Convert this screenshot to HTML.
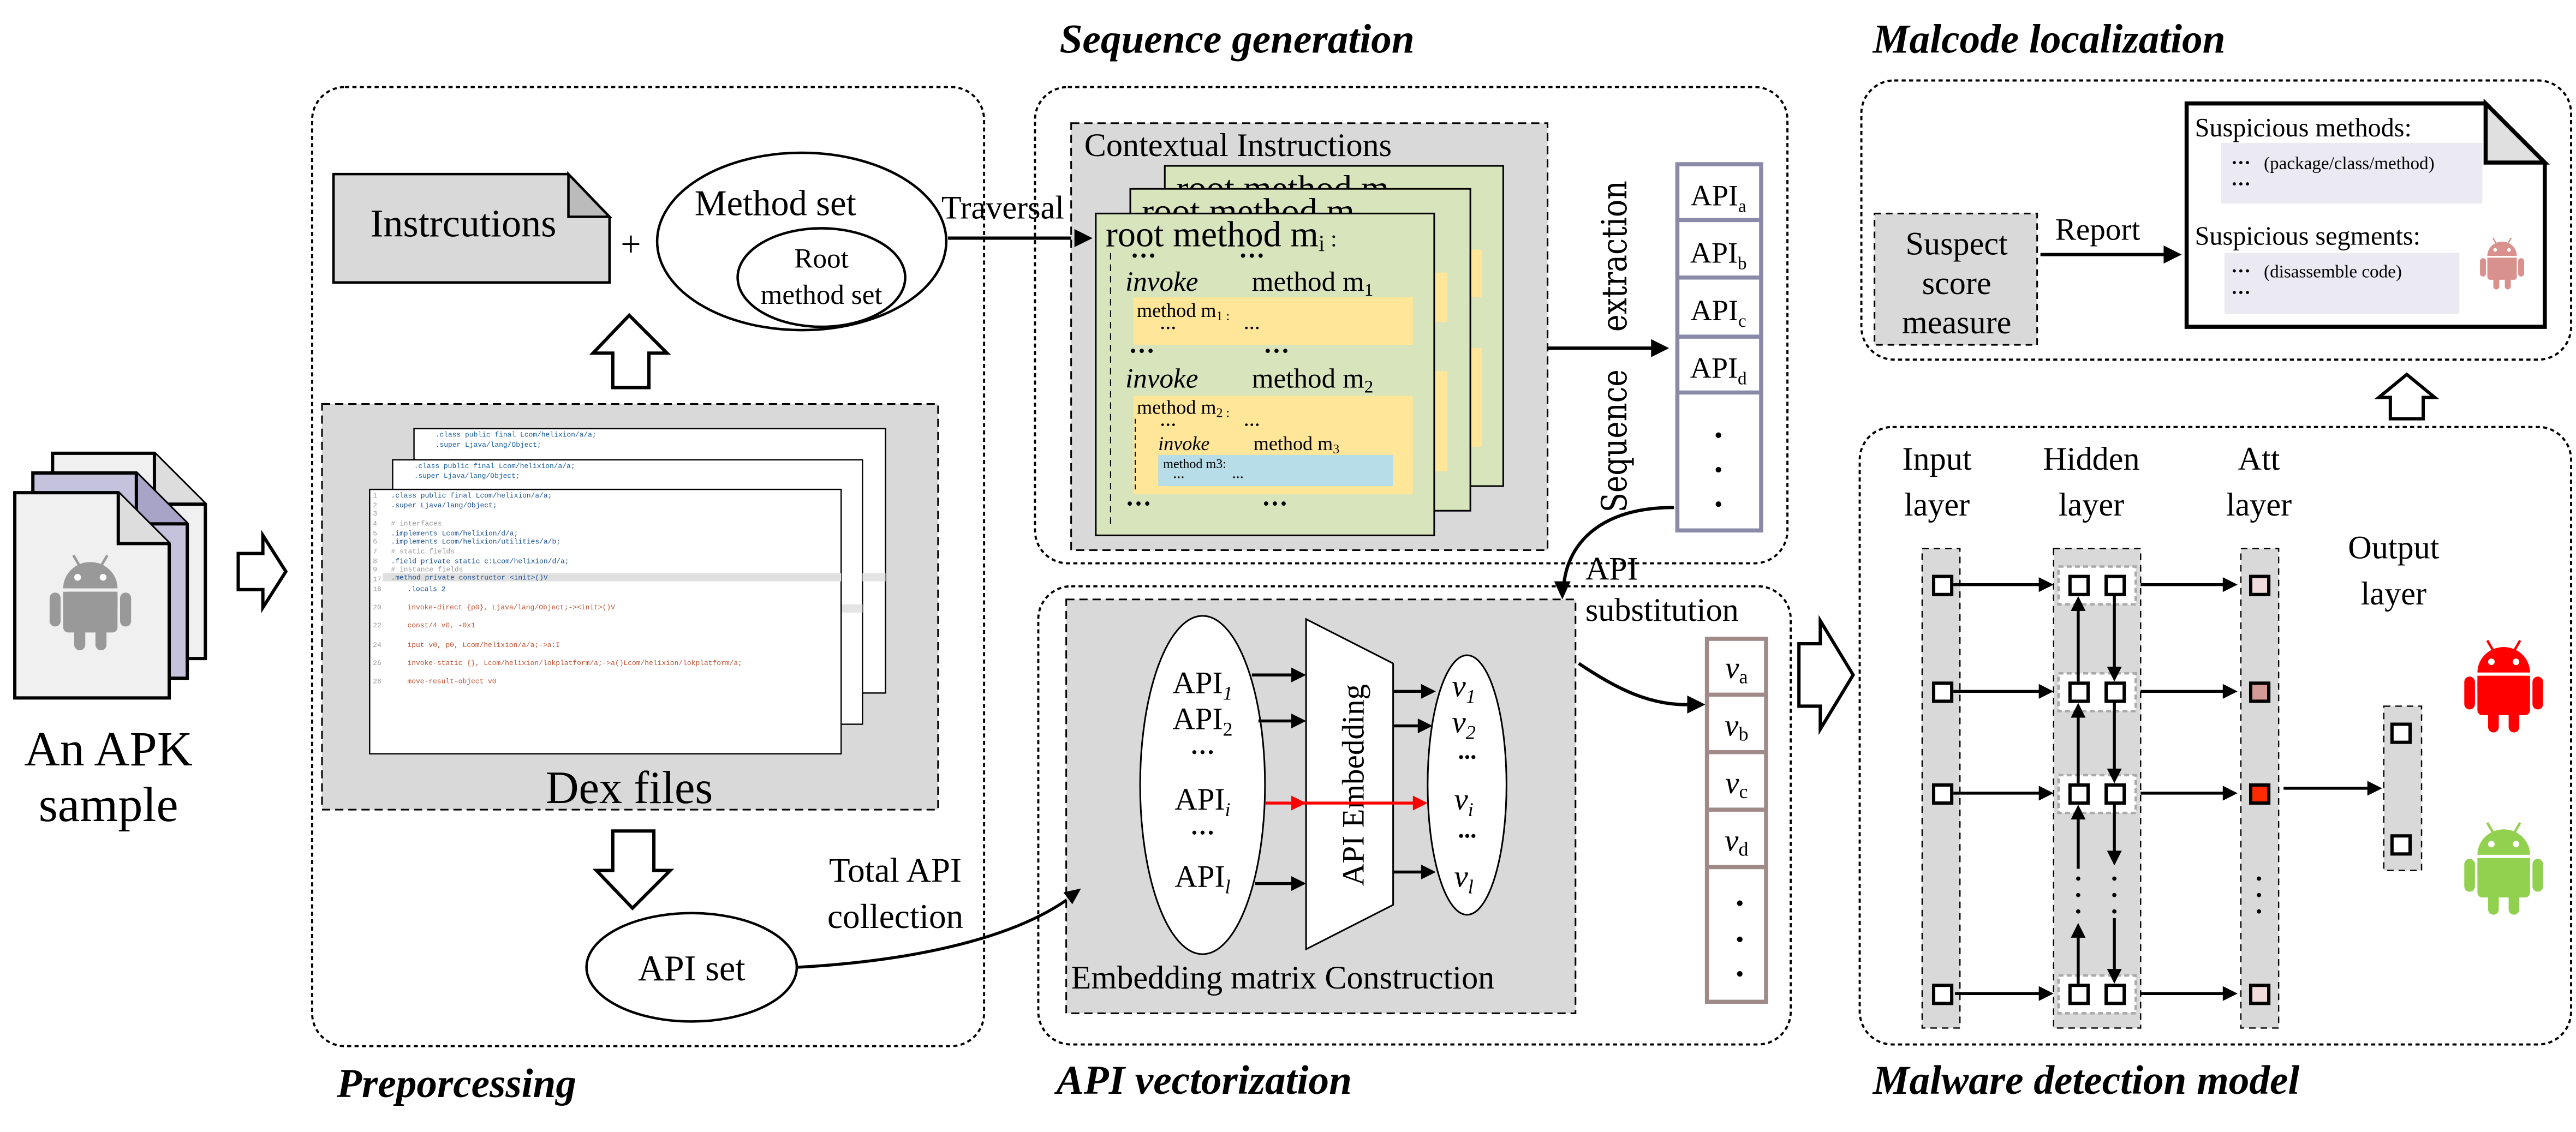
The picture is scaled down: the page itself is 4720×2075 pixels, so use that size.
<!DOCTYPE html>
<html><head><meta charset="utf-8"><style>
html,body{margin:0;padding:0;background:#fff;}
svg{display:block;}
text{font-family:"Liberation Serif",serif;}
text.m,.m text{font-family:"Liberation Mono",monospace;font-size:4.3px;}
</style></head><body>
<svg width="4720" height="2075" viewBox="0 0 1568 689.3" preserveAspectRatio="none" xmlns="http://www.w3.org/2000/svg">
<defs>
<symbol id="droid" viewBox="0 0 100 120">
<g fill="currentColor">
<line x1="30" y1="6" x2="37" y2="18" stroke="currentColor" stroke-width="3"/>
<line x1="70" y1="6" x2="63" y2="18" stroke="currentColor" stroke-width="3"/>
<path d="M18 45 A32 31 0 0 1 82 45 Z"/>
<rect x="18" y="49" width="64" height="48" rx="6"/>
<rect x="18" y="49" width="64" height="20"/>
<rect x="2" y="50" width="13" height="40" rx="6.5"/>
<rect x="85" y="50" width="13" height="40" rx="6.5"/>
<rect x="31" y="85" width="13" height="33" rx="6.5"/>
<rect x="56" y="85" width="13" height="33" rx="6.5"/>
</g>
<circle cx="35" cy="32" r="4" fill="#fff"/><circle cx="65" cy="32" r="4" fill="#fff"/>
</symbol>
</defs>

<!-- APK stack -->
<g stroke="#000" stroke-width="2">
<path d="M32,276 H94 L125,307 V401 H32 Z" fill="#f0f0f0"/>
<path d="M94,276 V307 H125" fill="#ddd"/>
<path d="M20,288 H83 L114,319 V413 H20 Z" fill="#c4c2dc"/>
<path d="M83,288 V319 H114" fill="#a8a4c8"/>
<path d="M9,300 H72 L103,331 V425 H9 Z" fill="#f0f0f0"/>
<path d="M72,300 V331 H103" fill="#ddd"/>
</g>
<use href="#droid" x="29" y="335" width="52" height="62" color="#999"/>
<text x="66" y="466" font-size="30" text-anchor="middle">An APK</text>
<text x="66" y="500" font-size="30" text-anchor="middle">sample</text>
<path d="M145,337 H160 V326 L174,348 L160,370 V359 H145 Z" fill="#fff" stroke="#000" stroke-width="2"/>

<!-- Preprocessing -->
<rect x="190" y="53" width="409" height="584" rx="20" fill="none" stroke="#000" stroke-width="1.3" stroke-dasharray="2.5,2"/>
<path d="M203,106 H346 L371,132 V172 H203 Z" fill="#d9d9d9" stroke="#000" stroke-width="1.5"/>
<path d="M346,106 V132 H371 Z" fill="#bbb" stroke="#000" stroke-width="1.5"/>
<text x="282" y="144" font-size="24" text-anchor="middle">Instrcutions</text>
<text x="384" y="156" font-size="22" text-anchor="middle">+</text>
<ellipse cx="488" cy="147" rx="88" ry="54" fill="#fff" stroke="#000" stroke-width="1.5"/>
<ellipse cx="500" cy="169" rx="51" ry="30" fill="#fff" stroke="#000" stroke-width="1.5"/>
<text x="472" y="131" font-size="22" text-anchor="middle">Method set</text>
<text x="500" y="163" font-size="17" text-anchor="middle">Root</text>
<text x="500" y="185" font-size="17" text-anchor="middle">method set</text>
<path d="M373,236 V215 H361 L383,192 L406,215 H395 V236 Z" fill="#fff" stroke="#000" stroke-width="2"/>
<rect x="196" y="246" width="375" height="247" fill="#d9d9d9" stroke="#000" stroke-width="1" stroke-dasharray="5,3"/>
<rect x="252" y="261" width="287" height="161" fill="#fff" stroke="#000" stroke-width="0.8"/>
<rect x="239" y="280" width="286" height="161" fill="#fff" stroke="#000" stroke-width="0.8"/>
<rect x="525" y="349" width="14" height="5" fill="#e4e4e4"/>
<rect x="512" y="368" width="13" height="5" fill="#e4e4e4"/>
<text class="m" x="265" y="266" fill="#1a5fa0">.class public final Lcom/helixion/a/a;</text>
<text class="m" x="265" y="272" fill="#1a5fa0">.super Ljava/lang/Object;</text>
<text class="m" x="252" y="285" fill="#1a5fa0">.class public final Lcom/helixion/a/a;</text>
<text class="m" x="252" y="291" fill="#1a5fa0">.super Ljava/lang/Object;</text>
<rect x="225" y="298" width="287" height="161" fill="#fff" stroke="#000" stroke-width="0.8"/>
<rect x="233" y="349" width="279" height="5" fill="#e0e0e0"/>
<g class="m" fill="#999">
<text x="227" y="303">1</text><text x="227" y="309">2</text><text x="227" y="314">3</text><text x="227" y="320">4</text><text x="227" y="326">5</text><text x="227" y="331">6</text><text x="227" y="337">7</text><text x="227" y="343">8</text><text x="227" y="348">9</text><text x="227" y="354">17</text><text x="227" y="360">18</text><text x="227" y="371">20</text><text x="227" y="382">22</text><text x="227" y="394">24</text><text x="227" y="405">26</text><text x="227" y="416">28</text>
</g>
<g class="m" fill="#1a4f90">
<text x="238" y="303">.class public final Lcom/helixion/a/a;</text>
<text x="238" y="309">.super Ljava/lang/Object;</text>
<text x="238" y="320" fill="#999"># interfaces</text>
<text x="238" y="326">.implements Lcom/helixion/d/a;</text>
<text x="238" y="331">.implements Lcom/helixion/utilities/a/b;</text>
<text x="238" y="337" fill="#999"># static fields</text>
<text x="238" y="343">.field private static c:Lcom/helixion/d/a;</text>
<text x="238" y="348" fill="#999"># instance fields</text>
<text x="238" y="353">.method private constructor &lt;init&gt;()V</text>
<text x="248" y="360">.locals 2</text>
<text x="248" y="371" fill="#c05030">invoke-direct {p0}, Ljava/lang/Object;-&gt;&lt;init&gt;()V</text>
<text x="248" y="382" fill="#c05030">const/4 v0, -0x1</text>
<text x="248" y="394" fill="#c05030">iput v0, p0, Lcom/helixion/a/a;-&gt;a:I</text>
<text x="248" y="405" fill="#c05030">invoke-static {}, Lcom/helixion/lokplatform/a;-&gt;a()Lcom/helixion/lokplatform/a;</text>
<text x="248" y="416" fill="#c05030">move-result-object v0</text>
</g>
<text x="383" y="489" font-size="28" text-anchor="middle">Dex files</text>
<path d="M373,506 V530 H363 L385,553 L408,530 H398 V506 Z" fill="#fff" stroke="#000" stroke-width="2"/>
<ellipse cx="421" cy="589" rx="64" ry="33" fill="#fff" stroke="#000" stroke-width="1.5"/>
<text x="421" y="597" font-size="22" text-anchor="middle">API set</text>
<text x="545" y="537" font-size="21" text-anchor="middle">Total API</text>
<text x="545" y="565" font-size="21" text-anchor="middle">collection</text>
<path d="M485,589 C560,585 620,570 652,546" fill="none" stroke="#000" stroke-width="1.8"/>
<text x="205" y="668" font-size="25" font-weight="bold" font-style="italic">Preporcessing</text>

<!-- Traversal -->
<text x="573" y="133" font-size="20">Traversal</text>
<line x1="577" y1="145" x2="658" y2="145" stroke="#000" stroke-width="2"/>

<!-- Sequence generation -->
<text x="645" y="32" font-size="25" font-weight="bold" font-style="italic">Sequence generation</text>
<rect x="630" y="53" width="458" height="290" rx="20" fill="none" stroke="#000" stroke-width="1.3" stroke-dasharray="2.5,2"/>
<rect x="652" y="75" width="290" height="260" fill="#d9d9d9" stroke="#000" stroke-width="1" stroke-dasharray="5,3"/>
<text x="660" y="95" font-size="20">Contextual Instructions</text>
<rect x="709" y="101" width="206" height="195" fill="#d8e4bc" stroke="#000" stroke-width="1"/>
<text x="716" y="122" font-size="22">root method m</text>
<rect x="895" y="152" width="7" height="29" fill="#ffe699"/><rect x="895" y="212" width="7" height="60" fill="#ffe699"/>
<rect x="688" y="115" width="207" height="196" fill="#d8e4bc" stroke="#000" stroke-width="1"/>
<text x="695" y="136" font-size="22">root method m</text>
<rect x="873" y="166" width="8" height="30" fill="#ffe699"/><rect x="873" y="226" width="8" height="61" fill="#ffe699"/>
<rect x="667" y="130" width="206" height="196" fill="#d8e4bc" stroke="#000" stroke-width="1"/>
<text x="673" y="150" font-size="22">root method m<tspan font-size="14" dy="3">i</tspan><tspan font-size="14" dy="-3"> :</tspan></text>
<line x1="676" y1="154" x2="676" y2="320" stroke="#000" stroke-width="0.7" stroke-dasharray="4,3"/>
<text x="688" y="161" font-size="16" font-weight="bold">···</text><text x="754" y="161" font-size="16" font-weight="bold">···</text>
<text x="685" y="177" font-size="17" font-style="italic">invoke</text><text x="762" y="177" font-size="17">method  m<tspan font-size="11" dy="3">1</tspan></text>
<rect x="690" y="181" width="170" height="29" fill="#ffe699"/>
<text x="692" y="193" font-size="12">method  m<tspan font-size="8" dy="2">1 :</tspan></text>
<text x="706" y="203" font-size="10" font-weight="bold">···</text><text x="757" y="203" font-size="10" font-weight="bold">···</text>
<text x="687" y="219" font-size="16" font-weight="bold">···</text><text x="769" y="219" font-size="16" font-weight="bold">···</text>
<text x="685" y="236" font-size="17" font-style="italic">invoke</text><text x="762" y="236" font-size="17">method  m<tspan font-size="11" dy="3">2</tspan></text>
<rect x="690" y="241" width="170" height="60" fill="#ffe699"/>
<text x="692" y="252" font-size="12">method  m<tspan font-size="8" dy="2">2 :</tspan></text>
<text x="706" y="262" font-size="10" font-weight="bold">···</text><text x="757" y="262" font-size="10" font-weight="bold">···</text>
<line x1="691" y1="255" x2="691" y2="299" stroke="#000" stroke-width="0.6" stroke-dasharray="3,2"/>
<text x="705" y="274" font-size="12" font-style="italic">invoke</text><text x="763" y="274" font-size="12">method  m<tspan font-size="8" dy="2">3</tspan></text>
<rect x="705" y="277" width="143" height="19" fill="#b7dde8"/>
<text x="708" y="285" font-size="8">method m3:</text>
<text x="714" y="293" font-size="7" font-weight="bold">···</text><text x="750" y="293" font-size="7" font-weight="bold">···</text>
<text x="685" y="312" font-size="16" font-weight="bold">···</text><text x="768" y="312" font-size="16" font-weight="bold">···</text>

<line x1="942" y1="212" x2="1008" y2="212" stroke="#000" stroke-width="2"/>
<text transform="translate(990,312) rotate(-90)" font-size="21" textLength="87" lengthAdjust="spacingAndGlyphs" style="font-family:'DejaVu Serif',serif">Sequence</text>
<text transform="translate(990,202) rotate(-90)" font-size="21" textLength="92" lengthAdjust="spacingAndGlyphs" style="font-family:'DejaVu Serif',serif">extraction</text>
<rect x="1021" y="100" width="51" height="223" fill="#fff" stroke="#8a8aa8" stroke-width="2.5"/>
<g stroke="#8a8aa8" stroke-width="2.5"><line x1="1021" y1="134" x2="1072" y2="134"/><line x1="1021" y1="169" x2="1072" y2="169"/><line x1="1021" y1="205" x2="1072" y2="205"/><line x1="1021" y1="239" x2="1072" y2="239"/></g>
<g font-size="18" text-anchor="middle">
<text x="1046" y="125">API<tspan font-size="11" dy="4">a</tspan></text>
<text x="1046" y="160">API<tspan font-size="11" dy="4">b</tspan></text>
<text x="1046" y="195">API<tspan font-size="11" dy="4">c</tspan></text>
<text x="1046" y="230">API<tspan font-size="11" dy="4">d</tspan></text>
</g>
<g fill="#000"><circle cx="1046" cy="265" r="1.7"/><circle cx="1046" cy="286" r="1.7"/><circle cx="1046" cy="307" r="1.7"/></g>
<path d="M1019,309 C975,309 955,330 952,355" fill="none" stroke="#000" stroke-width="2"/>
<text x="965" y="353" font-size="20">API</text>
<text x="965" y="378" font-size="20">substitution</text>

<!-- API vectorization -->
<rect x="632" y="357" width="458" height="279" rx="20" fill="none" stroke="#000" stroke-width="1.3" stroke-dasharray="2.5,2"/>
<rect x="649" y="365" width="310" height="252" fill="#d9d9d9" stroke="#000" stroke-width="1" stroke-dasharray="5,3"/>
<ellipse cx="732" cy="478" rx="38" ry="103" fill="#fff" stroke="#000" stroke-width="1"/>
<path d="M795,377 L848,404 V551 L795,578 Z" fill="#fff" stroke="#000" stroke-width="1"/>
<ellipse cx="893" cy="478" rx="24" ry="79" fill="#fff" stroke="#000" stroke-width="1"/>
<g font-size="19" text-anchor="middle">
<text x="732" y="422">API<tspan font-size="12" dy="4" font-style="italic">1</tspan></text>
<text x="732" y="444">API<tspan font-size="12" dy="4">2</tspan></text>
<text x="732" y="463" font-weight="bold" font-size="15">···</text>
<text x="732" y="493">API<tspan font-size="12" dy="4" font-style="italic">i</tspan></text>
<text x="732" y="512" font-weight="bold" font-size="15">···</text>
<text x="732" y="540">API<tspan font-size="12" dy="4" font-style="italic">l</tspan></text>
</g>
<g font-size="19" text-anchor="middle" font-style="italic">
<text x="891" y="424">v<tspan font-size="12" dy="4">1</tspan></text>
<text x="891" y="446">v<tspan font-size="12" dy="4">2</tspan></text>
<text x="893" y="466" font-weight="bold" font-size="15">···</text>
<text x="891" y="493">v<tspan font-size="12" dy="4">i</tspan></text>
<text x="893" y="514" font-weight="bold" font-size="15">···</text>
<text x="891" y="540">v<tspan font-size="12" dy="4">l</tspan></text>
</g>
<text transform="translate(830,478) rotate(-90)" font-size="19" text-anchor="middle">API Embedding</text>
<g stroke="#000" stroke-width="1.8">
<line x1="762" y1="411" x2="788" y2="411"/><line x1="766" y1="439" x2="788" y2="439"/><line x1="764" y1="538" x2="788" y2="538"/>
<line x1="848" y1="421" x2="867" y2="421"/><line x1="848" y1="442" x2="865" y2="442"/><line x1="848" y1="531" x2="867" y2="531"/>
</g>
<line x1="770" y1="489" x2="862" y2="489" stroke="#f00" stroke-width="1.8"/>
<path d="M795,489 l-9,-4.5 v9 z M869,489 l-9,-4.5 v9 z" fill="#f00"/>
<text x="652" y="602" font-size="20">Embedding matrix Construction</text>
<path d="M961,404 C985,420 1005,430 1030,429" fill="none" stroke="#000" stroke-width="2"/>
<rect x="1039" y="389" width="36" height="221" fill="#fff" stroke="#a08a88" stroke-width="2.5"/>
<g stroke="#a08a88" stroke-width="2.5"><line x1="1039" y1="423" x2="1075" y2="423"/><line x1="1039" y1="458" x2="1075" y2="458"/><line x1="1039" y1="493" x2="1075" y2="493"/><line x1="1039" y1="528" x2="1075" y2="528"/></g>
<g font-size="19" text-anchor="middle" font-style="italic">
<text x="1057" y="413">v<tspan font-size="12" dy="3" font-style="normal">a</tspan></text>
<text x="1057" y="448">v<tspan font-size="12" dy="3" font-style="normal">b</tspan></text>
<text x="1057" y="483">v<tspan font-size="12" dy="3" font-style="normal">c</tspan></text>
<text x="1057" y="518">v<tspan font-size="12" dy="3" font-style="normal">d</tspan></text>
</g>
<g fill="#000"><circle cx="1059" cy="550" r="1.7"/><circle cx="1059" cy="572" r="1.7"/><circle cx="1059" cy="593" r="1.7"/></g>
<text x="643" y="666" font-size="25" font-weight="bold" font-style="italic">API vectorization</text>

<path d="M1095,392 H1108 V378 L1128,411 L1108,444 V430 H1095 Z" fill="#fff" stroke="#000" stroke-width="2"/>

<!-- Malcode localization -->
<text x="1140" y="32" font-size="25" font-weight="bold" font-style="italic">Malcode localization</text>
<rect x="1133" y="49" width="432" height="170" rx="20" fill="none" stroke="#000" stroke-width="1.3" stroke-dasharray="2.5,2"/>
<rect x="1141" y="130" width="99" height="80" fill="#d9d9d9" stroke="#000" stroke-width="1" stroke-dasharray="4,3"/>
<text x="1191" y="155" font-size="20" text-anchor="middle">Suspect</text>
<text x="1191" y="179" font-size="20" text-anchor="middle">score</text>
<text x="1191" y="203" font-size="20" text-anchor="middle">measure</text>
<line x1="1242" y1="155" x2="1320" y2="155" stroke="#000" stroke-width="2"/>
<text x="1251" y="146" font-size="19">Report</text>
<path d="M1331,63 H1513 L1549,99 V199 H1331 Z" fill="#fff" stroke="#000" stroke-width="2.5"/>
<path d="M1513,63 V99 H1549 Z" fill="#e0e0e0" stroke="#000" stroke-width="2.5"/>
<text x="1336" y="83" font-size="16">Suspicious methods:</text>
<rect x="1352" y="87" width="159" height="37" fill="#ebe9f2"/>
<text x="1358" y="103" font-size="12" font-weight="bold">···</text><text x="1378" y="103" font-size="11">(package/class/method)</text>
<text x="1358" y="116" font-size="12" font-weight="bold">···</text>
<text x="1336" y="149" font-size="16">Suspicious segments:</text>
<rect x="1354" y="154" width="143" height="37" fill="#ebe9f2"/>
<text x="1358" y="169" font-size="12" font-weight="bold">···</text><text x="1378" y="169" font-size="11">(disassemble code)</text>
<text x="1358" y="182" font-size="12" font-weight="bold">···</text>
<use href="#droid" x="1509" y="143" width="28" height="34" color="#d9918d"/>
<path d="M1455,255 V242 H1448 L1465,228 L1482,242 H1475 V255 Z" fill="#fff" stroke="#000" stroke-width="2"/>

<!-- Malware detection model -->
<rect x="1132" y="260" width="433" height="376" rx="20" fill="none" stroke="#000" stroke-width="1.3" stroke-dasharray="2.5,2"/>
<g font-size="20" text-anchor="middle">
<text x="1179" y="286">Input</text><text x="1179" y="314">layer</text>
<text x="1273" y="286">Hidden</text><text x="1273" y="314">layer</text>
<text x="1375" y="286">Att</text><text x="1375" y="314">layer</text>
<text x="1457" y="340">Output</text><text x="1457" y="368">layer</text>
</g>
<g fill="#d9d9d9" stroke="#000" stroke-width="0.8" stroke-dasharray="4,3">
<rect x="1170" y="334" width="23" height="292"/>
<rect x="1250" y="334" width="53" height="292"/>
<rect x="1364" y="334" width="23" height="292"/>
<rect x="1451" y="430" width="23" height="100"/>
</g>
<g fill="#fff" stroke="#aaa" stroke-width="1.5" stroke-dasharray="3,2">
<rect x="1253" y="345" width="47" height="23"/><rect x="1253" y="410" width="47" height="23"/><rect x="1253" y="472" width="47" height="23"/><rect x="1253" y="594" width="47" height="23"/>
</g>
<g stroke="#000" stroke-width="1.8">
<line x1="1189" y1="356" x2="1243" y2="356"/><line x1="1189" y1="421" x2="1243" y2="421"/><line x1="1189" y1="483" x2="1243" y2="483"/><line x1="1190" y1="605" x2="1243" y2="605"/>
<line x1="1303" y1="356" x2="1355" y2="356"/><line x1="1303" y1="421" x2="1355" y2="421"/><line x1="1303" y1="483" x2="1355" y2="483"/><line x1="1303" y1="605" x2="1355" y2="605"/>
<line x1="1390" y1="480" x2="1443" y2="480"/>
<line x1="1265" y1="415" x2="1265" y2="370"/><line x1="1265" y1="477" x2="1265" y2="435"/><line x1="1265" y1="529" x2="1265" y2="497"/><line x1="1265" y1="599" x2="1265" y2="569"/>
<line x1="1287" y1="363" x2="1287" y2="408"/><line x1="1287" y1="428" x2="1287" y2="470"/><line x1="1287" y1="490" x2="1287" y2="520"/><line x1="1287" y1="559" x2="1287" y2="592"/>
</g>
<g stroke="#000" stroke-width="2">
<g fill="#fff">
<rect x="1177" y="351" width="11" height="11"/><rect x="1177" y="416" width="11" height="11"/><rect x="1177" y="478" width="11" height="11"/><rect x="1177" y="600" width="11" height="11"/>
<rect x="1260" y="351" width="11" height="11"/><rect x="1282" y="351" width="11" height="11"/>
<rect x="1260" y="416" width="11" height="11"/><rect x="1282" y="416" width="11" height="11"/>
<rect x="1260" y="478" width="11" height="11"/><rect x="1282" y="478" width="11" height="11"/>
<rect x="1260" y="600" width="11" height="11"/><rect x="1282" y="600" width="11" height="11"/>
<rect x="1456" y="441" width="11" height="11"/><rect x="1456" y="509" width="11" height="11"/>
</g>
<rect x="1370" y="351" width="11" height="11" fill="#f0dcdc"/>
<rect x="1370" y="416" width="11" height="11" fill="#d49a96"/>
<rect x="1370" y="478" width="11" height="11" fill="#ff2a00"/>
<rect x="1370" y="600" width="11" height="11" fill="#f0dcdc"/>
</g>
<g fill="#000">
<circle cx="1265" cy="535" r="1.3"/><circle cx="1265" cy="545" r="1.3"/><circle cx="1265" cy="555" r="1.3"/>
<circle cx="1287" cy="535" r="1.3"/><circle cx="1287" cy="545" r="1.3"/><circle cx="1287" cy="555" r="1.3"/>
<circle cx="1375" cy="535" r="1.3"/><circle cx="1375" cy="545" r="1.3"/><circle cx="1375" cy="555" r="1.3"/>
</g>

<!-- arrowheads -->
<path fill="#000" d="
M658,541 L652.7,550.6 L647.3,543.4 Z
M665,145 l-11,-5.5 v11 z
M1016,212 l-11,-5.5 v11 z
M951,365 l-5,-11 h10 z
M1038,429 l-11,-5.5 v11 z
M1328,155 l-11,-5.5 v11 z
M795,411 l-9,-4.5 v9 z M795,439 l-9,-4.5 v9 z M795,538 l-9,-4.5 v9 z
M874,421 l-9,-4.5 v9 z M872,442 l-9,-4.5 v9 z M874,531 l-9,-4.5 v9 z
M1250,356 l-9,-4.5 v9 z M1250,421 l-9,-4.5 v9 z M1250,483 l-9,-4.5 v9 z M1250,605 l-9,-4.5 v9 z
M1362,356 l-9,-4.5 v9 z M1362,421 l-9,-4.5 v9 z M1362,483 l-9,-4.5 v9 z M1362,605 l-9,-4.5 v9 z
M1450,480 l-9,-4.5 v9 z
M1265,363 l-4.5,9 h9 z M1265,428 l-4.5,9 h9 z M1265,490 l-4.5,9 h9 z M1265,562 l-4.5,9 h9 z
M1287,415 l-4.5,-9 h9 z M1287,477 l-4.5,-9 h9 z M1287,527 l-4.5,-9 h9 z M1287,599 l-4.5,-9 h9 z
"/>

<use href="#droid" x="1498" y="387" width="52" height="60" color="#ff0000"/>
<use href="#droid" x="1498" y="498" width="52" height="60" color="#92d050"/>
<text x="1140" y="666" font-size="25" font-weight="bold" font-style="italic">Malware detection model</text>
</svg>
</body></html>
